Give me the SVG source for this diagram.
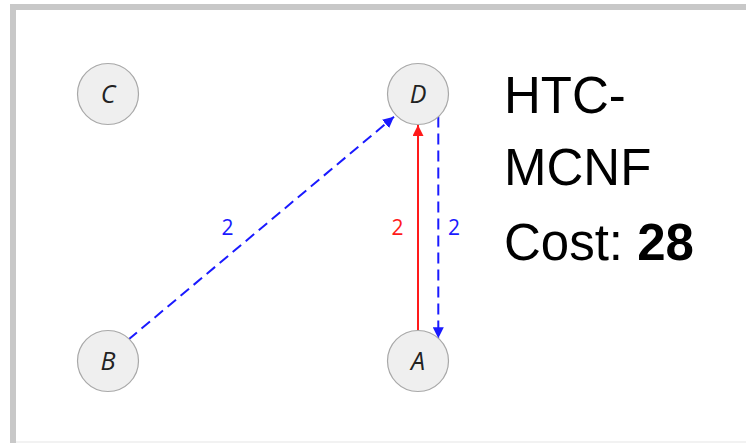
<svg xmlns="http://www.w3.org/2000/svg" width="746" height="443" viewBox="0 0 746 443">
<defs>
<style>
.node circle{fill:#efefef;stroke:#a8a8a8;stroke-width:1.2}
.node text{font-family:"Open Sans","DejaVu Sans",sans-serif;font-style:italic;font-size:25px;fill:#222;text-anchor:middle}
.edge{fill:none;stroke-width:2}
.blue{stroke:#1a1aff;stroke-dasharray:11 6}
.red{stroke:#ff1a1a}
.lbl{font-family:"Open Sans","DejaVu Sans",sans-serif;font-size:21px;text-anchor:middle}
.title{font-family:"Liberation Sans",Arial,sans-serif;font-size:51px;fill:#000}
</style>
<marker id="ab" viewBox="0 0 10 10" refX="10" refY="5" markerWidth="5.5" markerHeight="5.5" orient="auto" markerUnits="strokeWidth"><path d="M0,0 L10,5 L0,10 Z" fill="#1a1aff"/></marker>
<marker id="ar" viewBox="0 0 10 10" refX="10" refY="5" markerWidth="5.5" markerHeight="5.5" orient="auto" markerUnits="strokeWidth"><path d="M0,0 L10,5 L0,10 Z" fill="#ff1a1a"/></marker>
</defs>
<rect width="746" height="443" fill="#fff"/>
<path d="M13,443 V7 H746" fill="none" stroke="#c8c8c8" stroke-width="6"/>
<line x1="16" y1="442" x2="746" y2="442" stroke="#f2f2f2" stroke-width="2"/>
<g id="connectors">
<line class="edge blue" x1="128.5" y1="339.5" x2="394" y2="116.8" marker-end="url(#ab)"/>
<line class="edge red" x1="418" y1="330.5" x2="418" y2="125" marker-end="url(#ar)"/>
<line class="edge blue" x1="438.3" y1="116.6" x2="438.3" y2="338.3" marker-end="url(#ab)"/>
<text class="lbl" x="227.5" y="235" fill="#1a1aff">2</text>
<text class="lbl" x="397.5" y="235" fill="#ff1a1a">2</text>
<text class="lbl" x="454" y="235" fill="#1a1aff">2</text>
</g>
<g id="C" class="node"><circle cx="108" cy="94" r="30.5"/><text x="108" y="103">C</text></g>
<g id="D" class="node"><circle cx="418" cy="94" r="30.5"/><text x="418" y="103">D</text></g>
<g id="B" class="node"><circle cx="108" cy="361" r="30.5"/><text x="108" y="370">B</text></g>
<g id="A" class="node"><circle cx="418" cy="361" r="30.5"/><text x="418" y="370">A</text></g>
<g id="title">
<text class="title" x="504" y="113">HTC-</text>
<text class="title" x="504" y="185">MCNF</text>
<text class="title" x="504" y="260">Cost: <tspan font-weight="bold">28</tspan></text>
</g>
</svg>
